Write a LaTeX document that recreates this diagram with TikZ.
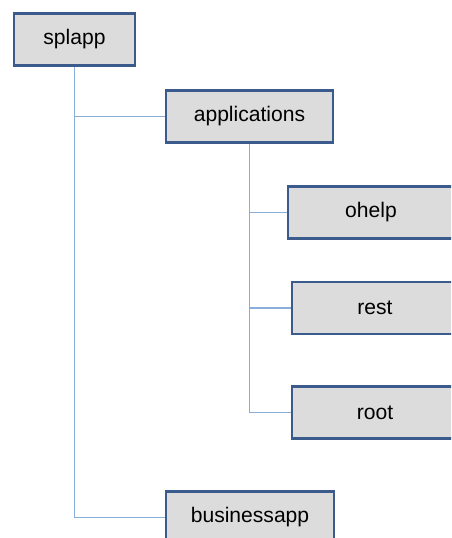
\documentclass[tikz,border=0pt]{standalone}
\usepackage{fontspec}
\setmainfont{Liberation Sans}
\usepackage{xcolor}
\usetikzlibrary{positioning}

\definecolor{boxfill}{HTML}{DCDCDC}
\definecolor{boxline}{HTML}{3B5B8C}
\definecolor{linkblue}{HTML}{8AAEDC}

\begin{document}
\begin{tikzpicture}[
  x=0.02cm, y=-0.02cm,
  folder/.style={
    rectangle,
    draw=boxline,
    fill=boxfill,
    line width=1.6pt,
    minimum width=#1*0.02cm,
    minimum height=52*0.02cm,
    inner sep=0pt,
    font=\fontsize{12}{14}\selectfont
  },
  link/.style={
    line width=0.7pt,
    draw=linkblue
  }
]
\useasboundingbox (0,0) rectangle (451,538);
\clip (0,0) rectangle (451,538);

% Folder tree
\node[folder=121] (splapp) at (74.5,39.5) {splapp};
\node[folder=167] (apps) at (249.5,116.5) {applications};
\node[folder=166] (ohelp) at (371,212.5) {ohelp};
\node[folder=166] (rest) at (375,308) {rest};
\node[folder=166] (root) at (375,412.5) {root};
\node[folder=168] (bizapp) at (250,517.5) {businessapp};

% Connections
\draw[link] (splapp.south) |- (apps.west);
\draw[link] (splapp.south) |- (bizapp.west);
\draw[link] (apps.south) |- (ohelp.west);
\draw[link] (apps.south) |- (rest.west);
\draw[link] (apps.south) |- (root.west);
\end{tikzpicture}
\end{document}
